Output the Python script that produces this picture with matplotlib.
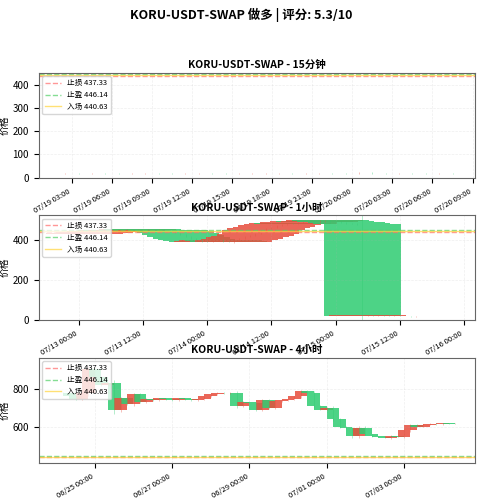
import matplotlib
matplotlib.use("Agg")
import matplotlib.pyplot as plt
import matplotlib.dates as mdates
import numpy as np
import pandas as pd

plt.rcParams['font.family'] = ['Noto Sans CJK SC', 'DejaVu Sans']
plt.rcParams['axes.unicode_minus'] = False

title = "KORU-USDT-SWAP 做多 | 评分: 5.3/10"
stop_loss, take_profit, entry = 437.33, 446.14, 440.63

# 15m (sampled hourly) closes
m15_start = "2025-07-19 02:30"
m15_close = [18.6, 18.5, 18.6, 18.5, 18.4, 18.5, 18.6, 18.5, 18.4, 18.5, 18.6, 18.5,
             18.4, 18.5, 18.6, 18.7, 18.8, 18.6, 18.7, 18.9, 18.8, 18.6, 19.5, 18.7,
             18.6, 18.8, 18.7, 18.6, 18.9, 18.8]
m15_open0 = 18.5

# 1h closes
h1_start = "2025-07-13 01:00"
h1_close = [432, 435, 438, 436, 440, 442, 445, 443,
            448, 446, 450, 447, 449, 445, 448, 446,
            440, 435, 425, 415, 405, 398, 392, 390,
            395, 400, 392, 388, 398, 405, 415, 420,
            430, 445, 455, 460, 470, 475, 480, 478,
            485, 488, 490, 485, 492, 495, 490, 488,
            485, 480, 478, 475, 22,
            22, 21, 22, 21, 20, 21, 20, 20, 19, 19]
h1_open0 = 428

# 4h closes
h4_start = "2025-06-24 04:00"
h4_close = [775, 760, 745, 780, 905,
            860, 820, 830, 690, 750, 720,
            770, 730, 745, 740, 750, 745,
            740, 750, 745, 740, 745, 760,
            770, 780, 775, 780, 710, 730,
            725, 690, 740, 700, 735, 740,
            745, 760, 790, 780, 710, 690,
            700, 640, 600, 590, 550, 595,
            560, 550, 545, 540, 550, 545,
            580, 610, 600, 610, 615, 612,
            618, 615, 615]
h4_open0 = 780

UP, DOWN = '#e74c3c', '#2ecc71'


def draw(ax, start, freq, closes, open0, width, minh):
    t = pd.date_range(start, periods=len(closes), freq=freq)
    x = mdates.date2num(t.to_pydatetime())
    c = np.array(closes, float)
    o = np.concatenate([[open0], c[:-1]])
    for xi, oi, ci in zip(x, o, c):
        col = UP if ci >= oi else DOWN
        h = max(abs(ci - oi), minh)
        ax.bar(xi, h, bottom=min(oi, ci), width=width, color=col, alpha=0.85, linewidth=0)
        ax.vlines(xi, min(oi, ci) - h * 0.15 - 2, max(oi, ci) + h * 0.1 + 2, color=col, lw=0.5, alpha=0.5)
    ax.axhline(stop_loss, color='#ff6b6b', ls='--', lw=1, alpha=0.7, label=f'止损 {stop_loss}')
    ax.axhline(take_profit, color='#51cf66', ls='--', lw=1, alpha=0.7, label=f'止盈 {take_profit}')
    ax.axhline(entry, color='#ffd43b', ls='-', lw=1, alpha=0.7, label=f'入场 {entry}')
    ax.legend(loc='upper left', fontsize=5.5, framealpha=0.8)
    ax.grid(True, alpha=0.2, ls='--', lw=0.5)
    ax.set_ylabel('价格', fontsize=7, labelpad=2)
    ax.tick_params(labelsize=7)
    ax.tick_params(axis='x', labelsize=5.5)
    ax.xaxis.set_major_formatter(mdates.DateFormatter('%m/%d %H:%M'))
    plt.setp(ax.get_xticklabels(), rotation=30, ha='right')
    for s in ax.spines.values():
        s.set_color('#666666')


fig = plt.figure(figsize=(4.82, 5.0), dpi=100)
fig.suptitle(title, fontsize=9, fontweight='bold', y=0.985)

L, W = 0.08, 0.905

ax1 = fig.add_axes([L, 0.645, W, 0.21])
draw(ax1, m15_start, '1h', m15_close, m15_open0, 0.04, 2.5)
ax1.set_ylim(0, 452)
ax1.set_xlim(mdates.datestr2num("2025-07-19 00:30"), mdates.datestr2num("2025-07-20 09:10"))
ax1.xaxis.set_major_locator(mdates.HourLocator(interval=3))
ax1.set_title('KORU-USDT-SWAP - 15分钟', fontsize=7.5, fontweight='bold', pad=3)

ax2 = fig.add_axes([L, 0.36, W, 0.21])
draw(ax2, h1_start, '1h', h1_close, h1_open0, 0.6, 0.6)
ax2.set_ylim(0, 522)
ax2.set_xlim(mdates.datestr2num("2025-07-12 16:30"), mdates.datestr2num("2025-07-16 02:00"))
ax2.xaxis.set_major_locator(mdates.HourLocator(byhour=[0, 12]))
ax2.set_title('KORU-USDT-SWAP - 1小时', fontsize=7.5, fontweight='bold', pad=3)

ax3 = fig.add_axes([L, 0.075, W, 0.21])
draw(ax3, h4_start, '4h', h4_close, h4_open0, 0.33, 0.6)
ax3.set_ylim(410, 965)
ax3.set_xlim(mdates.datestr2num("2025-06-23 13:00"), mdates.datestr2num("2025-07-04 20:00"))
ax3.xaxis.set_major_locator(mdates.DayLocator(bymonthday=[1, 3, 25, 27, 29]))
ax3.set_title('KORU-USDT-SWAP - 4小时', fontsize=7.5, fontweight='bold', pad=3)

fig.savefig('out.png', dpi=100)
